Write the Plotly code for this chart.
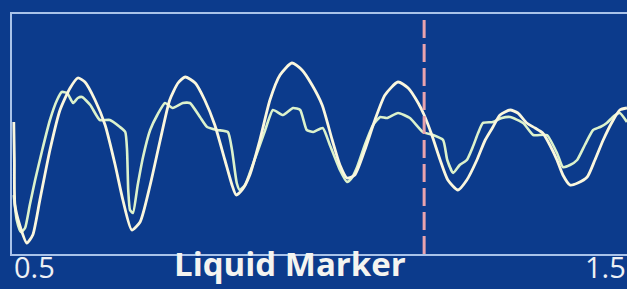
import plotly.graph_objects as go

# Trace A (smooth, large amplitude)
a_x = [0.503, 0.504, 0.505, 0.513, 0.525, 0.535, 0.547, 0.564, 0.581, 0.598,
       0.611, 0.623, 0.640, 0.657, 0.674, 0.687, 0.702, 0.716, 0.733, 0.750,
       0.766, 0.780, 0.792, 0.809, 0.825, 0.842, 0.859, 0.871, 0.878, 0.888,
       0.901, 0.918, 0.935, 0.952, 0.972, 0.989, 1.006, 1.023, 1.040, 1.053,
       1.065, 1.078, 1.095, 1.112, 1.129, 1.151, 1.168, 1.185, 1.195, 1.208,
       1.222, 1.235, 1.252, 1.267, 1.284, 1.298, 1.311, 1.323, 1.340, 1.353,
       1.368, 1.382, 1.395, 1.407, 1.419, 1.429, 1.441, 1.454, 1.470, 1.483,
       1.497, 1.512, 1.525, 1.537]
a_y = [132, 94, 49, 29, 11, 19, 54, 104, 144, 166,
       176, 172, 154, 129, 89, 54, 24, 32, 69, 114,
       154, 171, 177, 171, 154, 129, 94, 69, 59, 64,
       79, 114, 154, 179, 191, 184, 169, 149, 114, 89,
       76, 79, 104, 134, 159, 172, 166, 151, 139, 119,
       94, 74, 64, 74, 94, 114, 127, 139, 144, 141,
       131, 126, 121, 109, 94, 79, 69, 71, 77, 94,
       114, 132, 144, 146]

# Trace B (bumpy, smaller amplitude)
b_x = [0.503, 0.508, 0.515, 0.522, 0.530, 0.539, 0.551, 0.564, 0.576, 0.584,
       0.593, 0.603, 0.611, 0.618, 0.632, 0.648, 0.665, 0.682, 0.691, 0.694,
       0.696, 0.699, 0.704, 0.712, 0.721, 0.733, 0.745, 0.758, 0.771, 0.788,
       0.800, 0.817, 0.829, 0.846, 0.864, 0.871, 0.879, 0.884, 0.893, 0.901,
       0.915, 0.927, 0.940, 0.957, 0.974, 0.986, 0.997, 1.008, 1.024, 1.036,
       1.053, 1.065, 1.073, 1.082, 1.095, 1.109, 1.121, 1.132, 1.151, 1.171,
       1.193, 1.210, 1.227, 1.234, 1.244, 1.255, 1.267, 1.277, 1.286, 1.294,
       1.311, 1.326, 1.340, 1.362, 1.379, 1.402, 1.419, 1.429, 1.441, 1.453,
       1.466, 1.480, 1.492, 1.503, 1.515, 1.525, 1.537]
b_y = [59, 34, 22, 26, 49, 74, 104, 134, 154, 162,
       161, 151, 156, 157, 149, 134, 134, 127, 122, 104,
       64, 44, 41, 69, 97, 124, 139, 151, 146, 151,
       151, 137, 127, 124, 122, 104, 71, 64, 69, 81,
       104, 124, 144, 139, 146, 144, 124, 122, 126, 109,
       84, 72, 76, 87, 109, 129, 137, 136, 141, 136,
       122, 119, 114, 94, 81, 89, 94, 107, 121, 131,
       132, 136, 137, 131, 119, 119, 101, 87, 89, 94,
       109, 124, 127, 131, 138, 141, 132]

marker_x = 1.195
tick_vals = [0.5, 1.5]
tick_text = ["0.5", "1.5"]
title_text = "Liquid Marker"

bg = "#0c3b8c"
fig = go.Figure()
fig.add_trace(go.Scatter(x=b_x, y=b_y, mode="lines",
                         line=dict(color="#dcf2cc", width=2.6, shape="spline", smoothing=0.5),
                         showlegend=False))
fig.add_trace(go.Scatter(x=a_x, y=a_y, mode="lines",
                         line=dict(color="#fbf7de", width=2.8, shape="spline", smoothing=0.6),
                         showlegend=False))

fig.add_shape(type="line", x0=marker_x, x1=marker_x, y0=0, y1=1,
              xref="x", yref="paper",
              line=dict(color="#e9a3ae", width=3, dash="18px,6px"))

ybot = -0.142
fig.add_annotation(x=tick_vals[0], y=ybot, xref="x", yref="paper",
                   text=tick_text[0], showarrow=False, xanchor="left", yanchor="bottom",
                   font=dict(family="Open Sans", size=29, color="#eef0f4"))
fig.add_annotation(x=tick_vals[1], y=ybot, xref="x", yref="paper",
                   text=tick_text[1], showarrow=False, xanchor="center", yanchor="bottom",
                   font=dict(family="Open Sans", size=29, color="#eef0f4"))
fig.add_annotation(x=0.452, y=ybot, xref="paper", yref="paper",
                   text="<b>" + title_text + "</b>", showarrow=False,
                   xanchor="center", yanchor="bottom",
                   font=dict(family="Open Sans", size=33, color="#f4f4f0"))

fig.update_layout(
    width=627, height=289,
    margin=dict(l=12, r=0, t=14, b=35),
    paper_bgcolor=bg, plot_bgcolor=bg,
    xaxis=dict(range=[0.5, 1.5371], showgrid=False, zeroline=False,
               showticklabels=False, ticks="", showline=True, mirror=True,
               linecolor="#a9c3ea", linewidth=2),
    yaxis=dict(range=[0, 240], showgrid=False, zeroline=False,
               showticklabels=False, ticks="", showline=True, mirror=False,
               linecolor="#a9c3ea", linewidth=2),
)
fig.write_html("out.html", config={"displayModeBar": False},
               post_script="document.body.style.margin='0';document.body.style.background='" + bg + "';")
